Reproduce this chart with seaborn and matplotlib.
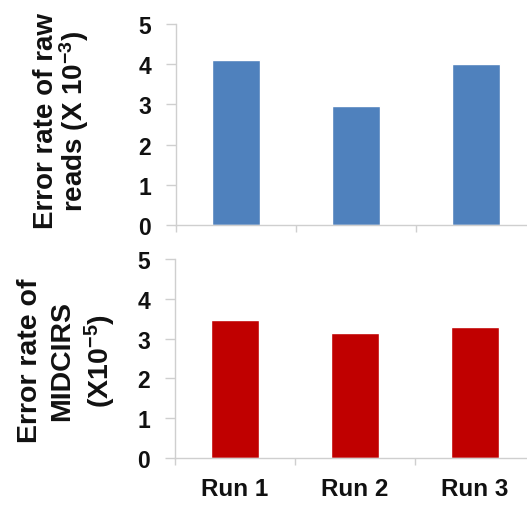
import matplotlib
matplotlib.use("Agg")
import matplotlib.pyplot as plt
import seaborn as sns
import pandas as pd

runs = ["Run 1", "Run 2", "Run 3"]
raw_read_error = [4.10, 2.95, 4.01]      # x 10^-3
midcirs_error = [3.47, 3.13, 3.30]       # x 10^-5
y_ticks = [0, 1, 2, 3, 4, 5]

sns.set_theme(style="white")
plt.rcParams["font.family"] = ["Liberation Sans", "DejaVu Sans"]
plt.rcParams["mathtext.fontset"] = "custom"
plt.rcParams["mathtext.rm"] = "Liberation Sans:bold"
plt.rcParams["mathtext.it"] = "Liberation Sans:bold"
plt.rcParams["mathtext.bf"] = "Liberation Sans:bold"
plt.rcParams["mathtext.default"] = "bf"

W, H = 527, 506
fig = plt.figure(figsize=(W / 100, H / 100), dpi=100)
fig.patch.set_facecolor("white")

ax_top = fig.add_axes([176 / W, 1 - 226 / H, 360 / W, 201 / H])
ax_bot = fig.add_axes([175 / W, 1 - 459 / H, 360 / W, 199 / H])

top_df = pd.DataFrame({"run": runs, "value": raw_read_error})
bot_df = pd.DataFrame({"run": runs, "value": midcirs_error})

sns.barplot(data=top_df, x="run", y="value", color="#4F81BD", saturation=1,
            width=0.4, ax=ax_top)
sns.barplot(data=bot_df, x="run", y="value", color="#C00000", saturation=1,
            width=0.4, ax=ax_bot)

spine_col = "#cfcfcf"
text_col = "#111111"
for ax in (ax_top, ax_bot):
    ax.set_ylim(0, 5)
    ax.set_xlim(-0.5, 2.5)
    ax.set_yticks(y_ticks)
    ax.set_yticklabels([str(t) for t in y_ticks], fontsize=16.5,
                       fontweight="bold", color=text_col)
    ax.set_xlabel("")
    ax.set_ylabel("")
    for s in ("top", "right"):
        ax.spines[s].set_visible(False)
    for s in ("left", "bottom"):
        ax.spines[s].set_color(spine_col)
        ax.spines[s].set_linewidth(1.0)
    ax.tick_params(axis="y", direction="out", length=7, width=1.0,
                   color=spine_col, pad=11, left=True)
    ax.set_xticks([-0.5, 0.5, 1.5, 2.5], minor=True)
    ax.tick_params(axis="x", which="minor", direction="out", length=5,
                   width=1.0, color=spine_col, bottom=True)
    ax.tick_params(axis="x", which="major", length=0, pad=14)

ax_top.set_xticks([0, 1, 2])
ax_top.set_xticklabels([])
ax_bot.set_xticks([0, 1, 2])
ax_bot.set_xticklabels(runs, fontsize=17.5, fontweight="bold",
                       color=text_col)

fig.text(62 / W, 1 - 121 / H,
         "Error rate of raw\nreads (X 10$^{-3}$)",
         rotation=90, ha="center", va="center", multialignment="center",
         fontsize=20, fontweight="bold", color=text_col, linespacing=0.93)
fig.text(67.5 / W, 1 - 361 / H,
         "Error rate of\nMIDCIRS\n(X10$^{-5}$)",
         rotation=90, ha="center", va="center", multialignment="center",
         fontsize=20.5, fontweight="bold", color=text_col, linespacing=1.28)

fig.savefig("out.png", dpi=100, facecolor="white")
